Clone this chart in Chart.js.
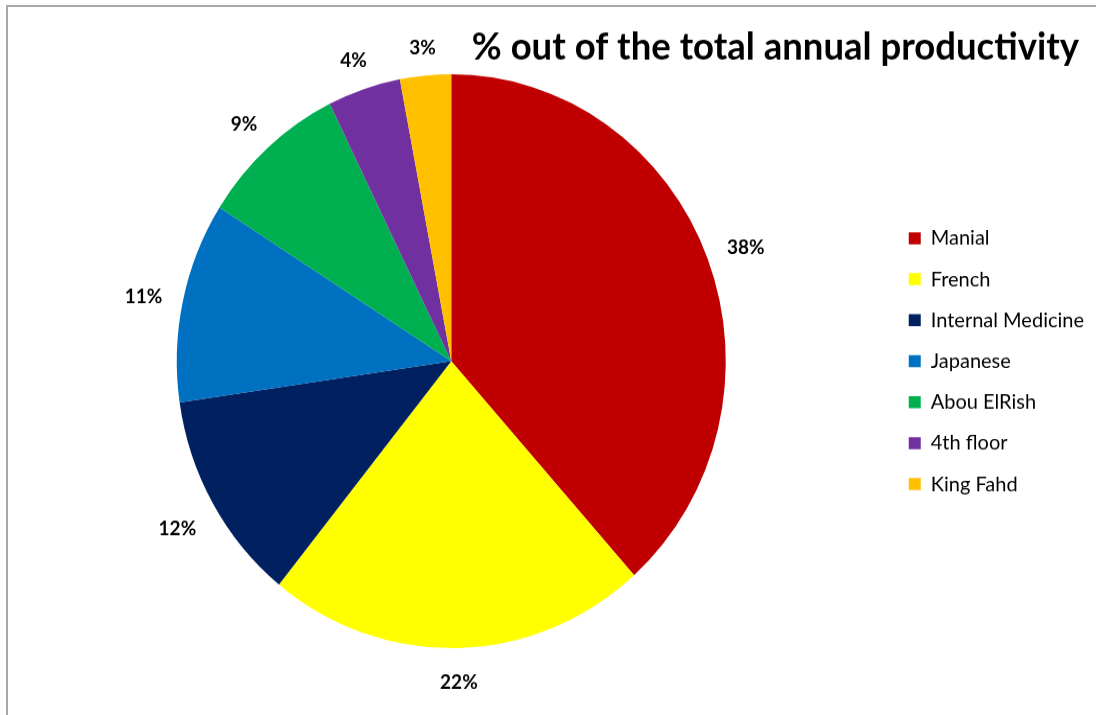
<!DOCTYPE html>
<html>
<head>
<meta charset="utf-8">
<script src="https://cdn.jsdelivr.net/npm/chart.js@4"></script>
<style>
  html, body { margin: 0; padding: 0; background: #fff; overflow: hidden; }
  #frame {
    position: absolute; left: 6px; top: 5px; width: 1200px; height: 800px;
    border: 2px solid #a9a9a9; box-sizing: border-box;
  }
  #wrap {
    position: absolute; left: 0; top: 0; width: 1096px; height: 684px;
    transform: scaleY(1.0453); transform-origin: 0 0;
  }
</style>
</head>
<body>
<div id="frame"></div>
<div id="wrap"><canvas id="pieChart"></canvas></div>
<script>
const chartTitle = "% out of the total annual productivity";
const categories = ["Manial", "French", "Internal Medicine", "Japanese", "Abou ElRish", "4th floor", "King Fahd"];
const shares = [38.4, 22.4, 11.9, 11.3, 8.7, 4.3, 3.0];
const sliceColors = ["#C00000", "#FFFF00", "#002060", "#0070C0", "#00B050", "#7030A0", "#FFC000"];

// percentage labels outside each slice
const sliceLabels = {
  id: "sliceLabels",
  afterDatasetsDraw(chart) {
    const ctx = chart.ctx;
    const meta = chart.getDatasetMeta(0);
    const total = shares.reduce((a, b) => a + b, 0);
    ctx.save();
    ctx.font = "bold 19px Lato";
    ctx.fillStyle = "#000";
    ctx.textAlign = "center";
    ctx.textBaseline = "middle";
    meta.data.forEach((arc, i) => {
      const { x, y, startAngle, endAngle, outerRadius } =
        arc.getProps(["x", "y", "startAngle", "endAngle", "outerRadius"], true);
      const mid = (startAngle + endAngle) / 2;
      const text = Math.round((shares[i] / total) * 100) + "%";
      const w = ctx.measureText(text).width;
      const d = outerRadius + 20 + (w / 2) * Math.abs(Math.cos(mid)) + 9 * Math.abs(Math.sin(mid));
      // Lato's middle baseline sits a little high, nudge down
      ctx.fillText(text, x + d * Math.cos(mid), y + d * Math.sin(mid) + 3.8);
    });
    ctx.restore();
  }
};

// title sits top right, overlapping the pie's vertical band
const cornerTitle = {
  id: "cornerTitle",
  afterDraw(chart) {
    const ctx = chart.ctx;
    ctx.save();
    ctx.font = "bold 36.5px Lato";
    ctx.fillStyle = "#000";
    ctx.textAlign = "right";
    ctx.textBaseline = "alphabetic";
    ctx.fillText(chartTitle, chart.width - 17, 56.7);
    ctx.restore();
  }
};

const ctx = document.getElementById("pieChart").getContext("2d");
new Chart(ctx, {
  type: "pie",
  data: {
    labels: categories,
    datasets: [
      {
        data: shares,
        backgroundColor: sliceColors,
        borderWidth: 0,
        hoverOffset: 0,
      },
    ],
  },
  options: {
    responsive: true,
    maintainAspectRatio: false,
    animation: false,
    devicePixelRatio: 1,
    layout: {
      padding: { top: 71, bottom: 64, left: 13, right: 2 },
    },
    plugins: {
      tooltip: { enabled: false },
      legend: {
        position: "right",
        labels: {
          boxWidth: 12,
          boxHeight: 11.5,
          padding: 19.2,
          color: "#000",
          font: { family: "Lato", size: 20 },
        },
      },
    },
  },
  plugins: [sliceLabels, cornerTitle],
});
</script>
</body>
</html>
